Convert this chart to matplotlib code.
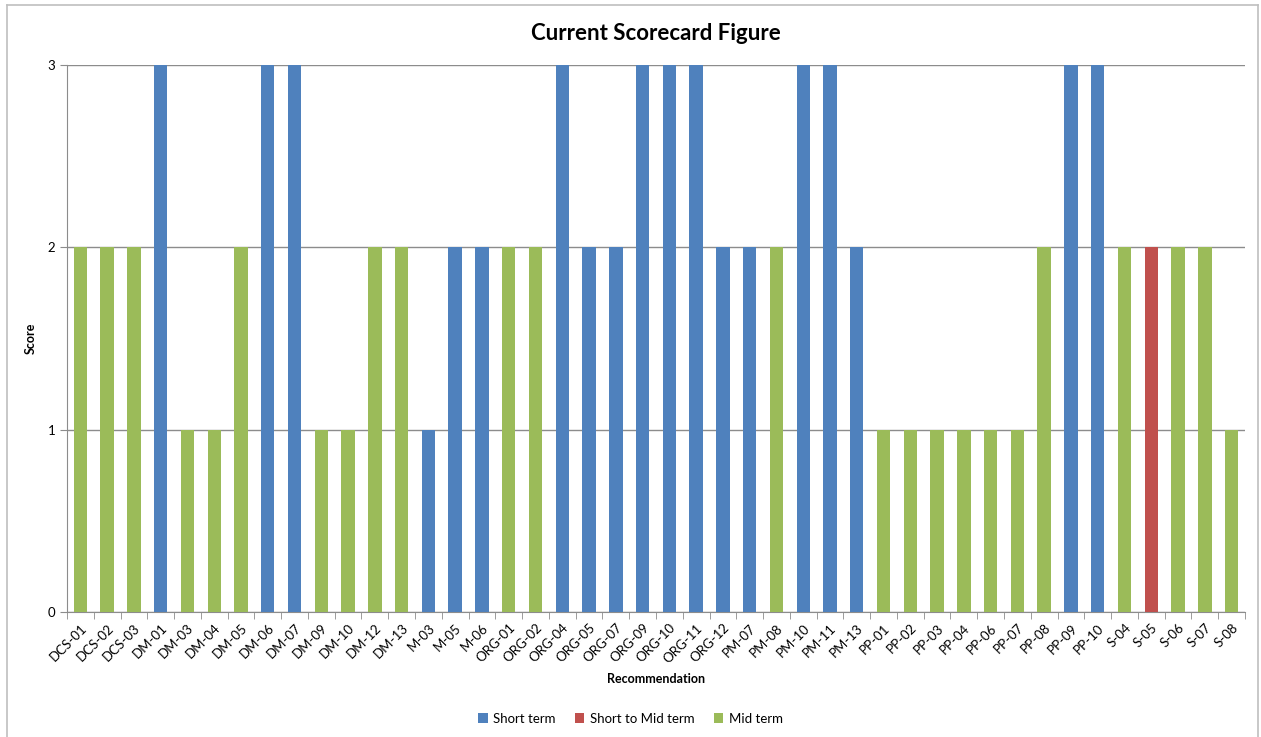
import matplotlib
matplotlib.use("Agg")
import matplotlib.pyplot as plt
import numpy as np
from matplotlib.lines import Line2D

categories = ["DCS-01", "DCS-02", "DCS-03", "DM-01", "DM-03", "DM-04", "DM-05", "DM-06",
              "DM-07", "DM-09", "DM-10", "DM-12", "DM-13", "M-03", "M-05", "M-06",
              "ORG-01", "ORG-02", "ORG-04", "ORG-05", "ORG-07", "ORG-09", "ORG-10", "ORG-11",
              "ORG-12", "PM-07", "PM-08", "PM-10", "PM-11", "PM-13", "PP-01", "PP-02",
              "PP-03", "PP-04", "PP-06", "PP-07", "PP-08", "PP-09", "PP-10", "S-04",
              "S-05", "S-06", "S-07", "S-08"]
short_term = [0, 0, 0, 3, 0, 0, 0, 3, 3, 0, 0, 0, 0, 1, 2, 2, 0, 0, 3, 2, 2, 3, 3, 3,
              2, 2, 0, 3, 3, 2, 0, 0, 0, 0, 0, 0, 0, 3, 3, 0, 0, 0, 0, 0]
short_to_mid = [0, 0, 0, 0, 0, 0, 0, 0, 0, 0, 0, 0, 0, 0, 0, 0, 0, 0, 0, 0, 0, 0, 0, 0,
                0, 0, 0, 0, 0, 0, 0, 0, 0, 0, 0, 0, 0, 0, 0, 0, 2, 0, 0, 0]
mid_term = [2, 2, 2, 0, 1, 1, 2, 0, 0, 1, 1, 2, 2, 0, 0, 0, 2, 2, 0, 0, 0, 0, 0, 0,
            0, 0, 2, 0, 0, 0, 1, 1, 1, 1, 1, 1, 2, 0, 0, 2, 0, 2, 2, 1]
series_names = ["Short term", "Short to Mid term", "Mid term"]
colors = ["#4F81BD", "#C0504D", "#9BBB59"]
yticks = [0, 1, 2, 3]

plt.rcParams['font.family'] = ['Lato', 'DejaVu Sans']

fig = plt.figure(figsize=(12.61, 7.37), dpi=100)
ax = fig.add_axes([0.0531, 0.1696, 0.9342, 0.7422])

x = np.arange(len(categories))
bottom = np.zeros(len(categories))
for name, vals, c in zip(series_names, [short_term, short_to_mid, mid_term], colors):
    v = np.array(vals, dtype=float)
    ax.bar(x, v, width=0.5, bottom=bottom, color=c, label=name, zorder=3)
    bottom += v

ax.set_xlim(-0.5, len(categories) - 0.5)
ax.set_ylim(0, 3)
ax.set_yticks(yticks)
ax.set_yticklabels([str(t) for t in yticks], fontsize=9.5)
ax.yaxis.grid(True, color="#8C8C8C", linewidth=1, zorder=0)
ax.set_axisbelow(True)

ax.set_xticks(x)
ax.set_xticklabels(categories, rotation=45, ha="right", rotation_mode="anchor", fontsize=9.5)
ax.tick_params(axis="x", length=0, pad=7)
ax.set_xticks(np.arange(-0.5, len(categories), 1), minor=True)
ax.tick_params(axis="x", which="minor", length=5, color="#8C8C8C", direction="out")
ax.tick_params(axis="y", length=5, color="#8C8C8C", direction="out")

for s in ["top", "right"]:
    ax.spines[s].set_visible(False)
ax.spines["left"].set_color("#8C8C8C")
ax.spines["bottom"].set_color("#8C8C8C")

ax.set_title("Current Scorecard Figure", fontsize=16, fontweight="bold", pad=18)
ax.set_ylabel("Score", fontsize=9, fontweight="bold", labelpad=8)
ax.set_xlabel("Recommendation", fontsize=9, fontweight="bold", labelpad=6)

fig.legend(loc="center", bbox_to_anchor=(0.5, 0.025), ncol=3, frameon=False,
           fontsize=9.5, handlelength=0.7, handleheight=0.7, columnspacing=1.5, handletextpad=0.4)

# chart-area border
W, H = 1261, 737
for (x0, y0, x1, y1) in [(7, 5, 1258, 5), (7, 5, 7, 737), (1258, 5, 1258, 737)]:
    fig.add_artist(Line2D([x0 / W, x1 / W], [1 - y0 / H, 1 - y1 / H], color="#BFBFBF", linewidth=1.2))

fig.savefig("out.png", dpi=100)
